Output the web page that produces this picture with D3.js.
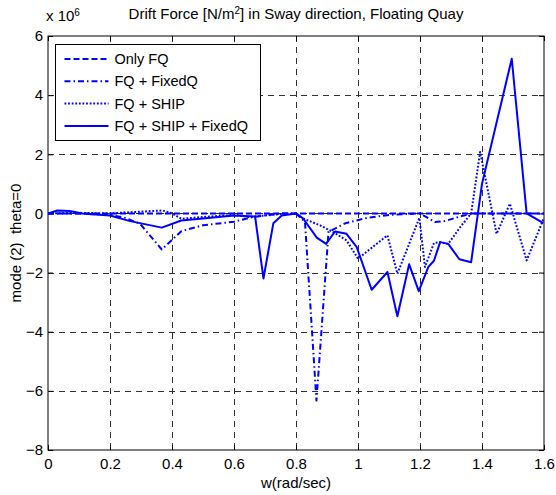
<!DOCTYPE html>
<html>
<head>
<meta charset="utf-8">
<script src="https://cdn.jsdelivr.net/npm/d3@7"></script>
<style>
  body { margin: 0; background: #fff; }
  svg { display: block; font-family: 'Liberation Sans', Arial, sans-serif; }
</style>
</head>
<body>
<div id="chart"></div>
<script>
// values in units of 1e6 N/m^2
const wOnlyFQ = [0, 0.2, 0.4, 0.6, 0.8, 1.0, 1.2, 1.4, 1.6]
const vOnlyFQ = [0, 0, 0, 0, 0, 0, 0, 0, 0]

const wFixedQ = [0, 0.1, 0.2, 0.25, 0.297, 0.367, 0.43, 0.5, 0.6, 0.66, 0.75, 0.8, 0.829, 0.866, 0.905, 0.96, 1.03, 1.1, 1.2, 1.248, 1.28, 1.33, 1.37, 1.45, 1.6]
const vFixedQ = [0, 0, -0.05, -0.15, -0.35, -1.22, -0.6, -0.4, -0.28, -0.12, 0, 0, -0.29, -6.33, -0.62, -0.33, -0.15, -0.05, 0, -0.29, -0.26, -0.1, 0, 0, 0]

const wShip = [0, 0.1, 0.2, 0.28, 0.37, 0.4, 0.43, 0.5, 0.6, 0.65, 0.75, 0.8, 0.823, 0.877, 0.92, 0.963, 1.0, 1.095, 1.127, 1.198, 1.216, 1.245, 1.265, 1.291, 1.33, 1.365, 1.394, 1.447, 1.49, 1.544, 1.598]
const vShip = [0, 0.02, 0, 0.05, 0.1, 0, -0.18, -0.12, -0.05, -0.12, -0.02, 0, -0.17, -0.4, -0.63, -0.91, -1.53, -0.74, -2.04, -0.15, -1.81, -1.0, -0.97, -1.03, -0.46, 0, 2.08, -0.69, 0.33, -1.59, -0.2]

const wAll = [0, 0.03, 0.07, 0.11, 0.2, 0.265, 0.367, 0.43, 0.5, 0.6, 0.668, 0.695, 0.727, 0.754, 0.8, 0.823, 0.867, 0.897, 0.926, 0.963, 0.996, 1.044, 1.095, 1.127, 1.165, 1.196, 1.227, 1.245, 1.265, 1.291, 1.327, 1.365, 1.4, 1.496, 1.544, 1.598]
const vAll = [0, 0.1, 0.08, 0, -0.07, -0.26, -0.48, -0.24, -0.17, -0.07, -0.1, -2.2, -0.33, -0.07, 0, -0.17, -0.82, -1.03, -0.61, -0.69, -1.14, -2.58, -1.98, -3.48, -1.72, -2.63, -1.81, -1.6, -0.97, -1.03, -1.55, -1.65, 1.0, 5.23, 0, -0.33]

const seriesNames = ['Only FQ', 'FQ + FixedQ', 'FQ + SHIP', 'FQ + SHIP + FixedQ']
const xTicks = [0, 0.2, 0.4, 0.6, 0.8, 1, 1.2, 1.4, 1.6]
const yTicks = [-8, -6, -4, -2, 0, 2, 4, 6]

const W = 556
const H = 495
const margin = { top: 36, right: 12, bottom: 45, left: 48 }
const width = W - margin.left - margin.right
const height = H - margin.top - margin.bottom

const svg = d3.select('#chart').append('svg')
  .attr('width', W)
  .attr('height', H)

const g = svg.append('g')
  .attr('transform', `translate(${margin.left},${margin.top})`)

const x = d3.scaleLinear().domain([0, 1.6]).range([0, width])
const y = d3.scaleLinear().domain([-8, 6]).range([height, 0])

svg.append('defs').append('clipPath').attr('id', 'clip')
  .append('rect').attr('width', width).attr('height', height)

// grid
const grid = g.append('g').attr('stroke', '#333').attr('stroke-width', 1).attr('stroke-dasharray', '6,5')
grid.selectAll('.gx').data(xTicks.slice(1, -1)).enter().append('line')
  .attr('x1', d => Math.round(x(d)) + 0.5).attr('x2', d => Math.round(x(d)) + 0.5)
  .attr('y1', 0).attr('y2', height)
grid.selectAll('.gy').data(yTicks.slice(1, -1)).enter().append('line')
  .attr('y1', d => Math.round(y(d)) + 0.5).attr('y2', d => Math.round(y(d)) + 0.5)
  .attr('x1', 0).attr('x2', width)

// axes
const fs = '15px'
const xAxis = g.append('g').attr('transform', `translate(0,${height})`)
  .call(d3.axisBottom(x).tickValues(xTicks).tickSize(-5).tickPadding(8).tickFormat(d3.format('')))
const yAxis = g.append('g')
  .call(d3.axisLeft(y).tickValues(yTicks).tickSize(-5).tickPadding(5).tickFormat(d3.format('')))
g.append('g').call(d3.axisTop(x).tickValues(xTicks).tickSize(-5).tickFormat(''))
g.append('g').attr('transform', `translate(${width},0)`)
  .call(d3.axisRight(y).tickValues(yTicks).tickSize(-5).tickFormat(''))
g.selectAll('.domain').remove()
g.selectAll('.tick line').attr('stroke', '#000')
xAxis.selectAll('text').attr('font-size', fs).attr('fill', '#000').attr('font-family', null)
yAxis.selectAll('text').attr('font-size', fs).attr('fill', '#000').attr('font-family', null)
g.append('rect').attr('width', width).attr('height', height)
  .attr('fill', 'none').attr('stroke', '#000').attr('stroke-width', 1)

// series
const styles = ['6,3', '6,3,1.5,3', '1.8,1.8', null]
const sets = [[wOnlyFQ, vOnlyFQ], [wFixedQ, vFixedQ], [wShip, vShip], [wAll, vAll]]
  .map(([ws, vs]) => ws.map((w, i) => ({ w, v: vs[i] })))
const line = d3.line().x(d => x(d.w)).y(d => y(d.v))
g.append('g').attr('clip-path', 'url(#clip)')
  .selectAll('path').data(sets).enter().append('path')
  .attr('d', line)
  .attr('fill', 'none')
  .attr('stroke', '#0000ff')
  .attr('stroke-width', 2)
  .attr('stroke-linejoin', 'round')
  .attr('stroke-dasharray', (_, i) => styles[i])

// legend
const lg = svg.append('g').attr('transform', 'translate(55.5,44.5)')
lg.append('rect').attr('width', 205).attr('height', 96)
  .attr('fill', '#fff').attr('stroke', '#000').attr('stroke-width', 1)
const rows = lg.selectAll('.row').data(seriesNames).enter().append('g')
  .attr('transform', (_, i) => `translate(0,${14.5 + i * 22.3})`)
rows.append('line').attr('x1', 9).attr('x2', 53).attr('y1', 0).attr('y2', 0)
  .attr('stroke', '#0000ff').attr('stroke-width', 2)
  .attr('stroke-dasharray', (_, i) => styles[i])
rows.append('text').attr('x', 59).attr('y', 5)
  .attr('font-size', '14.5px').text(d => d)

// labels
svg.append('text').attr('x', margin.left + width / 2).attr('y', 19)
  .attr('text-anchor', 'middle').attr('font-size', fs)
  .html('Drift Force [N/m<tspan baseline-shift="super" font-size="10px">2</tspan>] in Sway direction, Floating Quay')
svg.append('text').attr('x', 46).attr('y', 21).attr('font-size', fs)
  .html('x 10<tspan baseline-shift="super" font-size="10px">6</tspan>')
svg.append('text').attr('x', margin.left + width / 2).attr('y', 488)
  .attr('text-anchor', 'middle').attr('font-size', fs).text('w(rad/sec)')
svg.append('text').attr('transform', `translate(21,${margin.top + height / 2}) rotate(-90)`)
  .attr('text-anchor', 'middle').attr('font-size', fs)
  .style('white-space', 'pre').text('mode (2)  theta=0')
</script>
</body>
</html>
